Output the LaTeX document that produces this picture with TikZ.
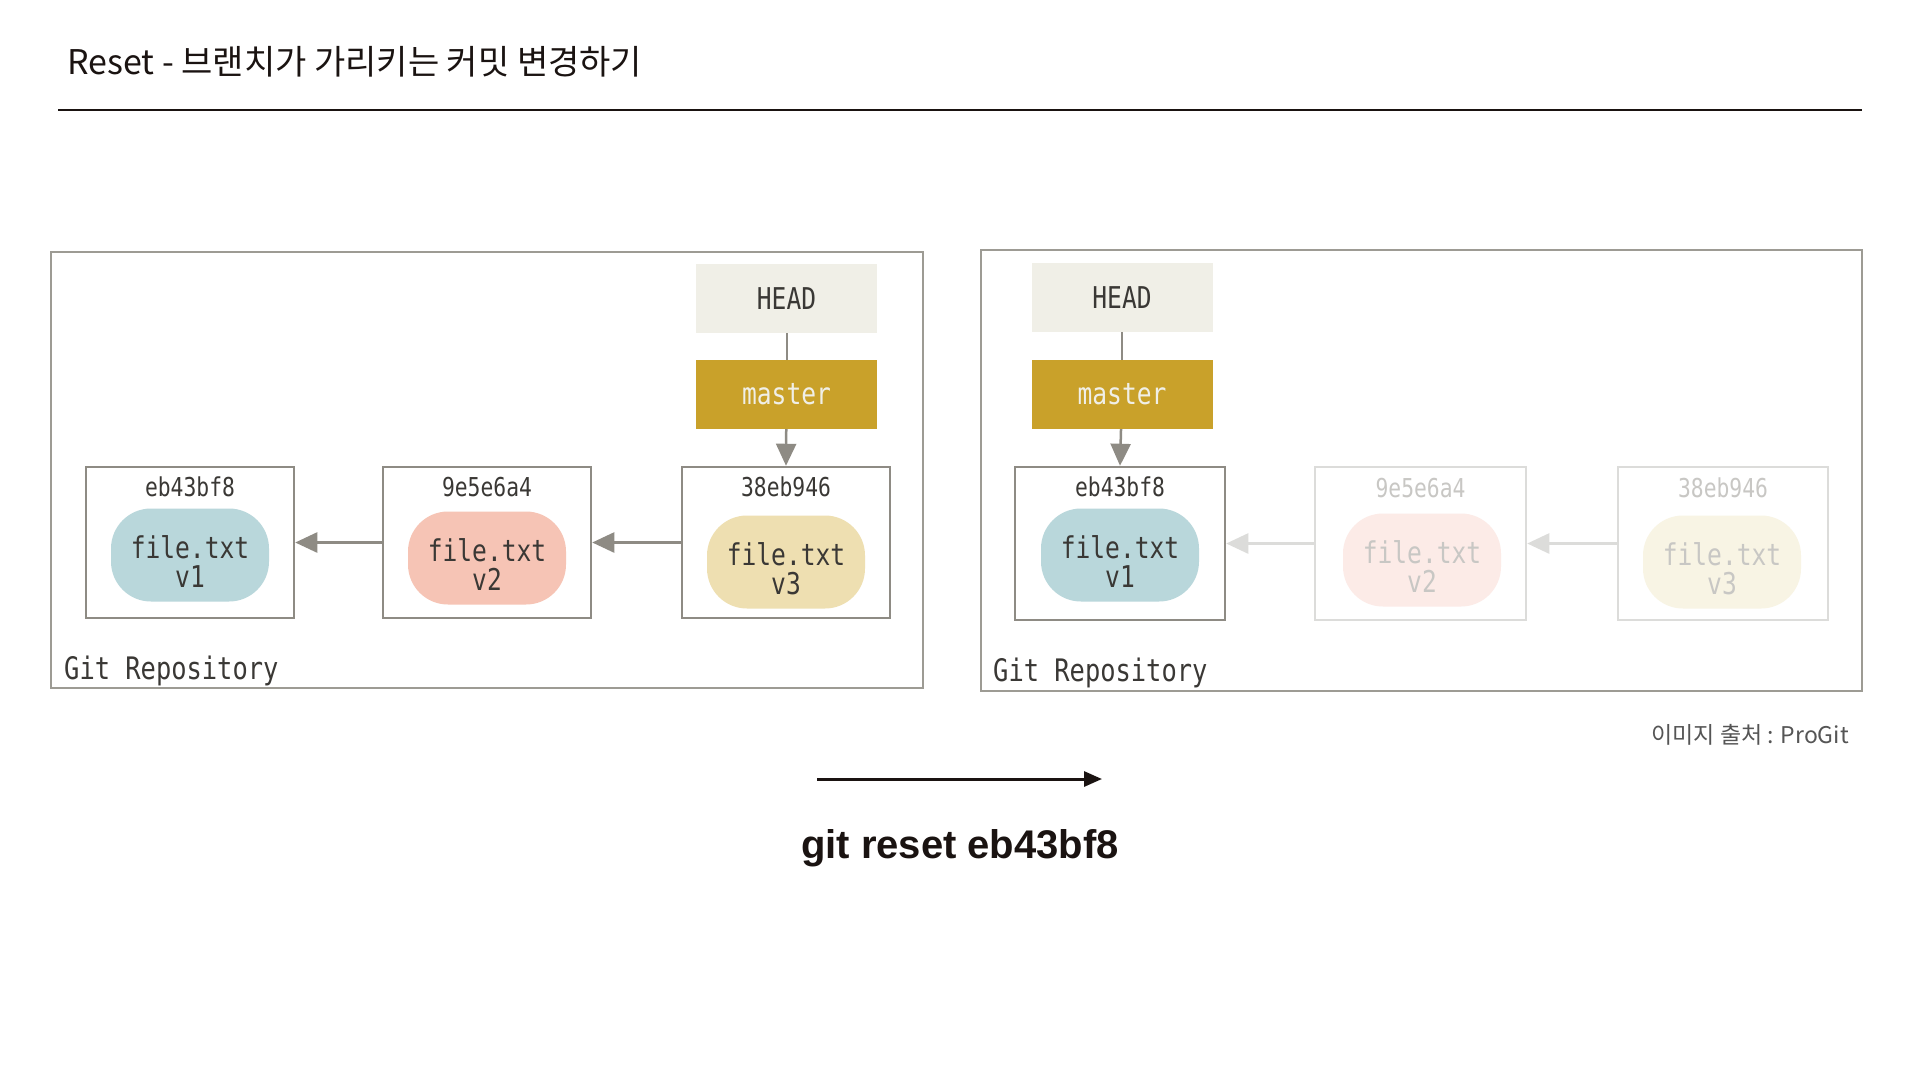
\documentclass[tikz,border=0pt]{standalone}
\usepackage{fontspec}
\setmainfont{Noto Sans CJK KR}
\newfontfamily\monof[FakeStretch=0.82]{DejaVu Sans Mono}
\newfontfamily\boldf{Liberation Sans}
\usetikzlibrary{arrows.meta}
\definecolor{frame}{HTML}{9D9B94}
\definecolor{gline}{HTML}{8E8B84}
\definecolor{headfill}{HTML}{F0EFE7}
\definecolor{masterfill}{HTML}{C9A12A}
\definecolor{txt}{HTML}{3A3835}
\definecolor{blobA}{HTML}{B9D7DB}
\definecolor{blobB}{HTML}{F6C4B5}
\definecolor{blobC}{HTML}{EEDFB1}
\definecolor{fadeline}{HTML}{DCDCDA}
\definecolor{fadetxt}{HTML}{C8C7C4}
\definecolor{fadeB}{HTML}{FCEBE7}
\definecolor{fadeC}{HTML}{F8F4E4}
\definecolor{note}{HTML}{555555}
\definecolor{ink}{HTML}{1A1311}
\tikzset{
 refbox/.style={minimum width=181pt, minimum height=69pt, inner sep=0pt, font=\monof\fontsize{30}{30}\selectfont},
 headbox/.style={refbox, fill=headfill, text=txt},
 masterbox/.style={refbox, fill=masterfill, text=headfill},
 commitbox/.style={draw=gline, line width=2.5pt, minimum width=208pt, minimum height=151pt, inner sep=0pt},
 fadebox/.style={commitbox, draw=fadeline},
 blob/.style={rounded corners=40pt, minimum width=158pt, minimum height=93pt, inner sep=0pt},
 blobtxt/.style={inner sep=0pt, align=center, font=\monof\fontsize{30}{29}\selectfont, text=txt, yshift=-7pt},
 hash/.style={font=\monof\fontsize{26}{26}\selectfont, text=txt, inner sep=0pt},
 repolabel/.style={font=\monof\fontsize{31}{31}\selectfont, text=txt, anchor=west, inner sep=0pt},
 repo/.style={draw=frame, line width=2.5pt},
 link/.style={draw=gline, line width=2.5pt, -{Triangle[length=22pt,width=20pt]}},
 fadelink/.style={link, draw=fadeline, fill=fadeline},
}
\begin{document}
\begin{tikzpicture}[x=1pt,y=-1pt]
\useasboundingbox[fill=white] (0,0) rectangle (1920,1080);
% title
\node[anchor=west, inner sep=0pt, font=\fontsize{34}{34}\selectfont, text=ink] (title) at (67,62) {Reset - 브랜치가 가리키는 커밋 변경하기};
\coordinate (l1) at (58,110);
\coordinate (l2) at (1862,110);
\draw[line width=2pt, ink] (l1) -- (l2);

% left repository
\node[repo, minimum width=872pt, minimum height=436pt, inner sep=0pt] (repoL) at (487,470) {};
\node[repolabel] (rlL) at (64,671) {Git Repository};
\node[headbox] (hL) at (786.5,298.5) {HEAD};
\node[masterbox] (mL) at (786.5,394.5) {master};
\node[commitbox] (c1L) at (190,542.5) {};
\node[commitbox] (c2L) at (487,542.5) {};
\node[commitbox] (c3L) at (786,542.5) {};
\node[hash] (h1L) at (190,487) {eb43bf8};
\node[hash] (h2L) at (487,487) {9e5e6a4};
\node[hash] (h3L) at (786,487) {38eb946};
\node[blob, fill=blobA] (b1L) at (190,555) {};
\node[blob, fill=blobB] (b2L) at (487,558) {};
\node[blob, fill=blobC] (b3L) at (786,562) {};
\node[blobtxt] (t1L) at (b1L) {file.txt\\v1};
\node[blobtxt] (t2L) at (b2L) {file.txt\\v2};
\node[blobtxt] (t3L) at (b3L) {file.txt\\v3};
\draw[gline, line width=2pt] (hL) -- (mL);
\draw[link] (mL) -- (c3L.north);
\draw[link] (c2L.west) -- (c1L.east);
\draw[link] (c3L.west) -- (c2L.east);

% right repository
\node[repo, minimum width=881pt, minimum height=441pt, inner sep=0pt] (repoR) at (1421.5,470.5) {};
\node[repolabel] (rlR) at (993,673) {Git Repository};
\node[headbox] (hR) at (1122,297.5) {HEAD};
\node[masterbox] (mR) at (1122,394.5) {master};
\node[commitbox, minimum width=210pt, minimum height=153pt] (c1R) at (1120,543.5) {};
\node[fadebox, minimum width=211pt, minimum height=153pt] (c2R) at (1420.5,543.5) {};
\node[fadebox, minimum width=210pt, minimum height=153pt] (c3R) at (1723,543.5) {};
\node[hash] (h1R) at (1120,487) {eb43bf8};
\node[hash, text=fadetxt] (h2R) at (1420.5,488) {9e5e6a4};
\node[hash, text=fadetxt] (h3R) at (1723,488) {38eb946};
\node[blob, fill=blobA] (b1R) at (1120,555) {};
\node[blob, fill=fadeB] (b2R) at (1422,560) {};
\node[blob, fill=fadeC] (b3R) at (1722,562) {};
\node[blobtxt] (t1R) at (b1R) {file.txt\\v1};
\node[blobtxt, text=fadetxt] (t2R) at (b2R) {file.txt\\v2};
\node[blobtxt, text=fadetxt] (t3R) at (b3R) {file.txt\\v3};
\draw[gline, line width=2pt] (hR) -- (mR);
\draw[link] (mR) -- (c1R.north);
\draw[fadelink] (c2R.west) -- (c1R.east);
\draw[fadelink] (c3R.west) -- (c2R.east);

% source note
\node[anchor=east, inner sep=0pt, font=\fontsize{23}{23}\selectfont, text=note] (src) at (1849,735) {이미지 출처 : ProGit};

% command arrow
\coordinate (a1) at (817,779);
\coordinate (a2) at (1102,779);
\draw[line width=3pt, ink, -{Triangle[length=18pt,width=15pt]}] (a1) -- (a2);
\node[inner sep=0pt, font=\boldf\bfseries\fontsize{40}{40}\selectfont, text=ink] (cmd) at (960,848) {git reset eb43bf8};
\end{tikzpicture}
\end{document}
